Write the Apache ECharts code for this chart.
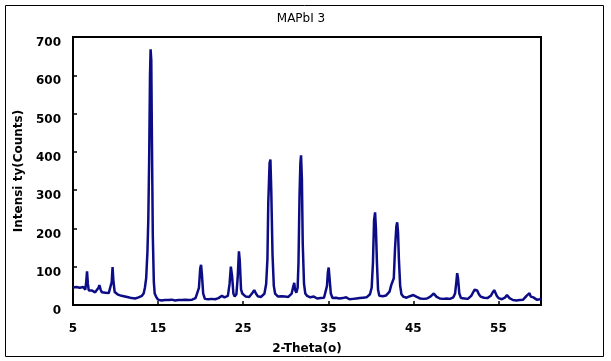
<!DOCTYPE html>
<html>
<head>
<meta charset="utf-8">
<script src="https://cdn.jsdelivr.net/npm/echarts@6/dist/echarts.min.js"></script>
<style>
  html, body { margin: 0; padding: 0; background: #fff; }
  #chart { width: 611px; height: 361px; }
</style>
</head>
<body>
<div id="chart"></div>
<script>
// 2-theta (degrees) and intensity (counts)
var twoTheta = [
  5.0, 5.2, 5.4, 5.6, 5.8, 6.0, 6.2, 6.3, 6.45, 6.55, 6.65, 6.75, 6.85, 7.0, 7.2, 7.4, 7.6, 7.8, 8.0, 8.1,
  8.25, 8.4, 8.6, 8.8, 9.0, 9.2, 9.4, 9.55, 9.65, 9.75, 9.9, 10.1, 10.3, 10.5, 10.7, 10.9, 11.1, 11.3, 11.5, 11.7,
  11.9, 12.1, 12.3, 12.5, 12.7, 12.9, 13.1, 13.3, 13.45, 13.6, 13.75, 13.85, 13.95, 14.05, 14.12, 14.2, 14.28, 14.38, 14.5, 14.6,
  14.8, 15.0, 15.2, 15.4, 15.6, 15.8, 16.0, 16.2, 16.4, 16.6, 16.8, 17.0, 17.2, 17.4, 17.6, 17.8, 18.0, 18.2, 18.4, 18.6,
  18.8, 19.0, 19.2, 19.4, 19.6, 19.8, 19.95, 20.05, 20.15, 20.3, 20.5, 20.7, 20.9, 21.1, 21.3, 21.5, 21.7, 21.9, 22.1, 22.3,
  22.5, 22.65, 22.8, 23.0, 23.2, 23.4, 23.55, 23.7, 23.85, 24.0, 24.2, 24.35, 24.5, 24.6, 24.75, 24.9, 25.1, 25.3, 25.5, 25.7,
  25.9, 26.1, 26.3, 26.5, 26.7, 26.9, 27.1, 27.3, 27.5, 27.7, 27.85, 27.95, 28.1, 28.2, 28.3, 28.45, 28.6, 28.75, 28.9, 29.1,
  29.3, 29.5, 29.7, 29.9, 30.1, 30.3, 30.5, 30.7, 30.85, 31.0, 31.1, 31.25, 31.4, 31.5, 31.62, 31.72, 31.8, 31.9, 32.0, 32.15,
  32.3, 32.5, 32.7, 32.9, 33.1, 33.3, 33.5, 33.7, 33.9, 34.1, 34.3, 34.5, 34.7, 34.85, 34.95, 35.05, 35.15, 35.3, 35.5, 35.7,
  35.9, 36.1, 36.3, 36.5, 36.7, 36.9, 37.1, 37.3, 37.5, 37.7, 37.9, 38.1, 38.3, 38.5, 38.7, 38.9, 39.1, 39.3, 39.5, 39.7,
  39.9, 40.1, 40.25, 40.38, 40.5, 40.6, 40.72, 40.85, 41.0, 41.2, 41.4, 41.6, 41.8, 42.0, 42.2, 42.4, 42.55, 42.7, 42.85, 43.0,
  43.1, 43.2, 43.3, 43.45, 43.6, 43.8, 44.0, 44.2, 44.4, 44.6, 44.8, 45.0, 45.2, 45.4, 45.6, 45.8, 46.0, 46.2, 46.4, 46.6,
  46.8, 47.0, 47.2, 47.4, 47.55, 47.7, 47.9, 48.1, 48.3, 48.5, 48.7, 48.9, 49.1, 49.3, 49.5, 49.7, 49.9, 50.05, 50.15, 50.25,
  50.4, 50.6, 50.8, 51.0, 51.2, 51.4, 51.6, 51.8, 52.0, 52.2, 52.35, 52.5, 52.7, 52.9, 53.1, 53.3, 53.5, 53.7, 53.9, 54.1,
  54.3, 54.5, 54.65, 54.8, 55.0, 55.2, 55.4, 55.6, 55.8, 56.0, 56.15, 56.3, 56.5, 56.7, 56.9, 57.1, 57.3, 57.5, 57.7, 57.9,
  58.1, 58.3, 58.5, 58.65, 58.8, 58.95, 59.1, 59.3, 59.5, 59.7, 59.9, 60.0
];
var counts = [
  46, 44, 47, 43, 45, 42, 47, 52, 40, 60, 88, 55, 38, 36, 38, 34, 33, 36, 45, 52,
  40, 33, 31, 32, 30, 31, 33, 60, 99, 62, 34, 30, 27, 26, 24, 25, 22, 21, 20, 19,
  18, 19, 17, 18, 20, 22, 24, 30, 45, 70, 140, 223, 380, 600, 668, 640, 420, 180, 60, 30,
  20, 14, 15, 12, 14, 13, 15, 13, 12, 14, 13, 12, 14, 13, 11, 13, 12, 14, 12, 13,
  15, 14, 16, 18, 22, 45, 95, 105, 80, 30, 16, 14, 15, 13, 16, 14, 15, 17, 18, 20,
  24, 27, 20, 18, 24, 55, 100, 75, 30, 22, 28, 70, 140, 115, 40, 30, 26, 22, 24, 21,
  25, 32, 39, 30, 23, 22, 21, 24, 30, 55, 120, 267, 370, 380, 300, 130, 50, 30, 25, 22,
  26, 23, 27, 22, 24, 21, 26, 30, 45, 58, 40, 32, 45, 110, 284, 370, 391, 330, 160, 55,
  30, 24, 21, 20, 18, 22, 19, 17, 20, 18, 17, 19, 22, 50, 85, 98, 70, 30, 18, 16,
  19, 15, 17, 22, 18, 16, 20, 17, 15, 18, 16, 19, 17, 15, 18, 16, 19, 17, 20, 22,
  28, 45, 110, 220, 242, 200, 110, 40, 24, 21, 23, 22, 25, 27, 35, 52, 48, 70, 150, 205,
  216, 190, 120, 50, 28, 22, 20, 19, 21, 23, 25, 26, 24, 21, 18, 17, 19, 16, 18, 17,
  20, 22, 26, 30, 28, 22, 19, 17, 19, 16, 18, 17, 19, 16, 18, 20, 30, 60, 83, 70,
  30, 18, 15, 17, 20, 16, 19, 24, 32, 40, 44, 38, 28, 22, 17, 19, 16, 18, 20, 24,
  32, 39, 34, 24, 18, 16, 15, 17, 20, 26, 24, 18, 15, 13, 14, 12, 14, 13, 15, 14,
  18, 24, 28, 31, 22, 26, 20, 16, 14, 16, 15, 17
];

var chart = echarts.init(document.getElementById("chart"));

var pts = twoTheta.map(function (t, i) { return [t, counts[i]]; });

var labelFont = {
  fontFamily: "DejaVu Sans",
  fontWeight: "bold",
  fontSize: 12,
  color: "#000"
};

var option = {
  backgroundColor: "#fff",
  animation: false,
  title: {
    text: "MAPbI 3",
    left: 296,
    top: 8,
    textAlign: "center",
    textStyle: { fontFamily: "DejaVu Sans", fontWeight: 500, fontSize: 12, color: "#000" }
  },
  grid: {
    left: 73, right: 70, top: 37, bottom: 56,
    show: true,
    borderColor: "#000",
    borderWidth: 2
  },
  xAxis: {
    type: "value",
    min: 5,
    max: 60,
    interval: 10,
    name: "2-Theta(o)",
    nameLocation: "middle",
    nameGap: 38,
    nameTextStyle: labelFont,
    axisLine: { lineStyle: { color: "#000", width: 2 } },
    axisTick: { inside: true, length: 4, lineStyle: { color: "#000", width: 1.5 } },
    axisLabel: Object.assign({ margin: 18, showMaxLabel: false }, labelFont),
    splitLine: { show: false }
  },
  yAxis: {
    type: "value",
    min: 0,
    max: 700,
    interval: 100,
    name: "Intensi ty(Counts)",
    nameLocation: "middle",
    nameGap: 40,
    nameTextStyle: labelFont,
    axisLine: { lineStyle: { color: "#000", width: 2 } },
    axisTick: { inside: true, length: 4, lineStyle: { color: "#000", width: 1.5 } },
    // labels sit a little below their ticks in the original
    axisLabel: Object.assign({ margin: 12, verticalAlign: "top" }, labelFont),
    splitLine: { show: false }
  },
  graphic: [{
    type: "rect",
    shape: { x: 5.5, y: 5.5, width: 598, height: 351 },
    style: { fill: null, stroke: "#000", lineWidth: 1 },
    silent: true
  }],
  series: [{
    type: "line",
    data: pts,
    showSymbol: false,
    lineStyle: { color: "#0c0c86", width: 2.5 },
    z: 3
  }]
};

chart.setOption(option);
</script>
</body>
</html>
